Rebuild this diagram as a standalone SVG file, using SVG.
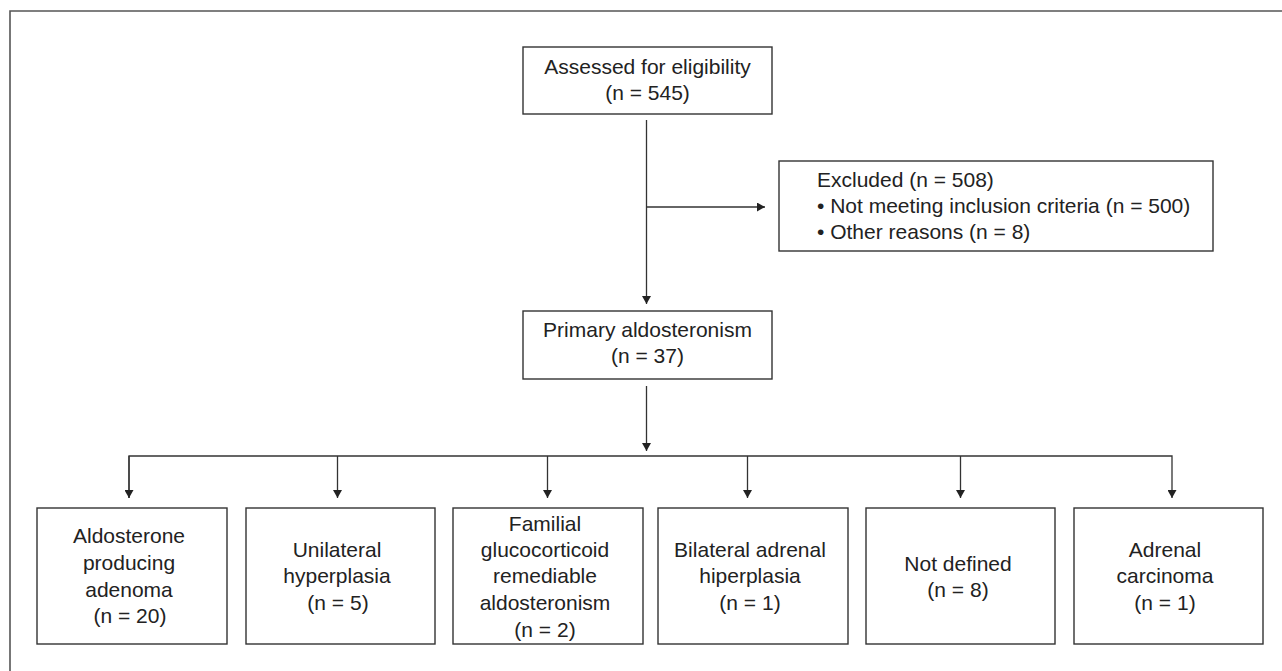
<svg xmlns="http://www.w3.org/2000/svg" width="1282" height="671" viewBox="0 0 1282 671">
  <style>
    .box { fill: #ffffff; stroke: #333333; stroke-width: 1.4; }
    .t { font-family: "Liberation Sans", Arial, Helvetica, sans-serif; font-size: 21px; fill: #222222; }
    .c { text-anchor: middle; }
    .ln { fill: none; stroke: #333333; stroke-width: 1.3; }
    .frame { fill: none; stroke: #555555; stroke-width: 1.6; }
  </style>
  <defs>
    <marker id="arr" viewBox="0 0 8 9" refX="8" refY="4.5" markerWidth="8" markerHeight="9" markerUnits="userSpaceOnUse" orient="auto">
      <path d="M0,0 L8,4.5 L0,9 z" fill="#222222"/>
    </marker>
  </defs>
  <rect width="1282" height="671" fill="#ffffff"/>
  <path class="frame" d="M10,671 L10,11 L1282,11"/>

  <g id="connectors">
    <path class="ln" d="M646.5,120 L646.5,304" marker-end="url(#arr)"/>
    <path class="ln" d="M646.5,207 L765,207" marker-end="url(#arr)"/>
    <path class="ln" d="M646.5,386 L646.5,451" marker-end="url(#arr)"/>
    <path class="ln" d="M129,498 L129,456 L1172,456 L1172,498" marker-end="url(#arr)"/>
    <path class="ln" d="M129,456 L129,498" marker-end="url(#arr)"/>
    <path class="ln" d="M337.5,456 L337.5,498" marker-end="url(#arr)"/>
    <path class="ln" d="M547.5,456 L547.5,498" marker-end="url(#arr)"/>
    <path class="ln" d="M747.5,456 L747.5,498" marker-end="url(#arr)"/>
    <path class="ln" d="M960.5,456 L960.5,498" marker-end="url(#arr)"/>
  </g>

  <g id="assessed">
    <rect class="box" x="523" y="47" width="249" height="67"/>
    <text class="t c" x="647.5" y="74">Assessed for eligibility</text>
    <text class="t c" x="647.5" y="100">(n = 545)</text>
  </g>

  <g id="excluded">
    <rect class="box" x="779" y="161" width="434" height="90"/>
    <text class="t" x="817" y="187">Excluded (n = 508)</text>
    <text class="t" x="817" y="213">• Not meeting inclusion criteria (n = 500)</text>
    <text class="t" x="817" y="239">• Other reasons (n = 8)</text>
  </g>

  <g id="primary">
    <rect class="box" x="523" y="311" width="249" height="68"/>
    <text class="t c" x="647.5" y="337">Primary aldosteronism</text>
    <text class="t c" x="647.5" y="363">(n = 37)</text>
  </g>

  <g id="apa">
    <rect class="box" x="37" y="508" width="190" height="136"/>
    <text class="t c" x="129" y="543">Aldosterone</text>
    <text class="t c" x="129" y="570">producing</text>
    <text class="t c" x="129" y="596.5">adenoma</text>
    <text class="t c" x="130" y="623">(n = 20)</text>
  </g>

  <g id="unilateral">
    <rect class="box" x="246" y="508" width="189" height="136"/>
    <text class="t c" x="337" y="556.5">Unilateral</text>
    <text class="t c" x="337" y="583">hyperplasia</text>
    <text class="t c" x="338" y="610">(n = 5)</text>
  </g>

  <g id="familial">
    <rect class="box" x="453" y="508" width="190" height="136"/>
    <text class="t c" x="545" y="530.5">Familial</text>
    <text class="t c" x="545" y="556.5">glucocorticoid</text>
    <text class="t c" x="545" y="583">remediable</text>
    <text class="t c" x="545" y="610">aldosteronism</text>
    <text class="t c" x="545" y="636.5">(n = 2)</text>
  </g>

  <g id="bilateral">
    <rect class="box" x="658" y="508" width="190" height="136"/>
    <text class="t c" x="750" y="556.5">Bilateral adrenal</text>
    <text class="t c" x="750" y="583">hiperplasia</text>
    <text class="t c" x="750" y="610">(n = 1)</text>
  </g>

  <g id="notdefined">
    <rect class="box" x="866" y="508" width="189" height="136"/>
    <text class="t c" x="958" y="570.5">Not defined</text>
    <text class="t c" x="958" y="596.5">(n = 8)</text>
  </g>

  <g id="carcinoma">
    <rect class="box" x="1074" y="508" width="189" height="136"/>
    <text class="t c" x="1165" y="556.5">Adrenal</text>
    <text class="t c" x="1165" y="583">carcinoma</text>
    <text class="t c" x="1165" y="610">(n = 1)</text>
  </g>
</svg>
